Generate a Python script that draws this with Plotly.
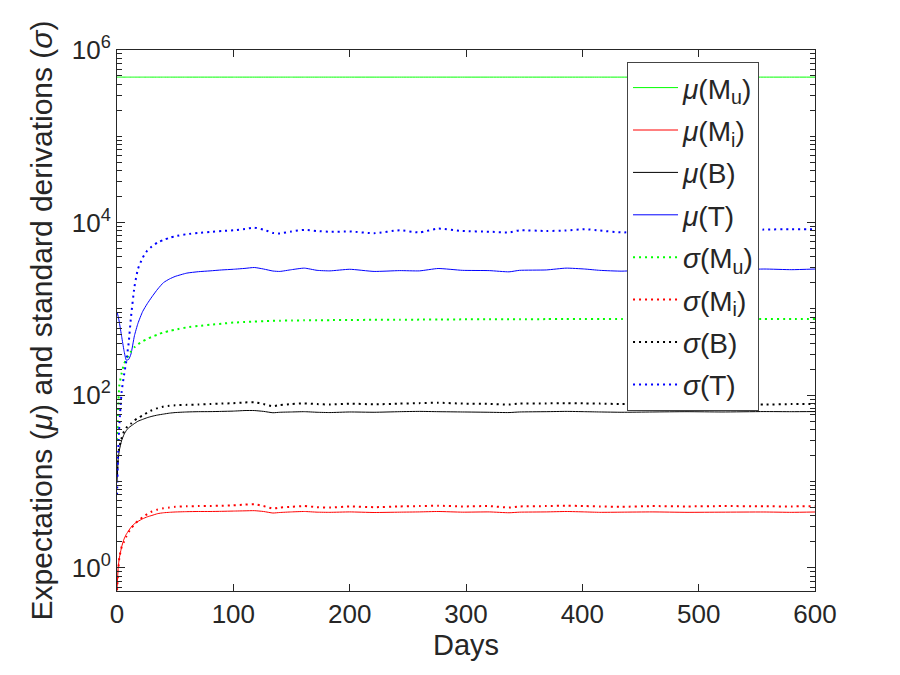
import plotly.graph_objects as go

# days sampled from the figure
days = [0, 1, 2, 4, 6, 8, 10, 12, 15, 18, 22, 26, 30, 35, 40, 45, 50, 60, 70, 80,
        90, 100, 110, 118, 126, 134, 140, 150, 161, 172, 183, 200, 221, 243, 260, 276,
        297, 320, 337, 346, 369, 386, 402, 415, 434, 460, 490, 520, 556, 580, 600]

mu_Mu = [4.85e5] * len(days)

mu_Mi = [0.55, 1.0, 1.3, 1.75, 2.15, 2.45, 2.7, 2.95, 3.25, 3.45, 3.7, 3.9, 4.05, 4.25, 4.35, 4.4, 4.44, 4.48, 4.5, 4.5,
         4.52, 4.55, 4.58, 4.6, 4.5, 4.32, 4.38, 4.45, 4.5, 4.42, 4.4, 4.45, 4.38, 4.42, 4.45, 4.5,
         4.42, 4.45, 4.35, 4.42, 4.45, 4.5, 4.45, 4.4, 4.42, 4.45, 4.4, 4.42, 4.44, 4.4, 4.44]

mu_B = [10, 18, 23, 30, 35, 39, 42, 44, 47, 50, 52.5, 55, 57, 59, 60.5, 62, 63, 64, 64.5, 64.6,
        65, 65.5, 66.5, 66.5, 65, 62.7, 63.5, 64, 64.5, 63.5, 63, 64, 63.5, 64.5, 65, 64.5,
        64, 63.5, 63, 64, 64.5, 65, 64.5, 64, 63.5, 64, 64.5, 64, 64.7, 64.5, 64.7]

mu_T = [920, 820, 700, 480, 330, 255, 260, 300, 490, 680, 930, 1150, 1380, 1700, 2020, 2220, 2380, 2600, 2700, 2760,
        2830, 2880, 2950, 3020, 2900, 2750, 2720, 2850, 2970, 2800, 2760, 2880, 2720, 2780, 2760, 2940,
        2800, 2780, 2690, 2800, 2830, 2970, 2900, 2800, 2740, 2850, 2900, 2800, 2900, 2850, 2900]

sd_Mu = [30, 70, 130, 180, 230, 262, 290, 320, 360, 390, 420, 450, 475, 505, 535, 555, 575, 611, 635, 656,
         675, 695, 705, 715, 722, 728, 731, 735, 738, 740, 742, 745, 748, 750, 752, 755,
         757, 758, 760, 760, 762, 763, 763, 764, 764, 765, 765, 765, 766, 766, 766]

sd_Mi = [0.55, 0.9, 1.3, 1.75, 2.0, 2.3, 2.6, 2.85, 3.2, 3.5, 3.85, 4.2, 4.5, 4.75, 4.9, 5.0, 5.1, 5.17, 5.2, 5.22,
         5.25, 5.3, 5.4, 5.45, 5.2, 4.86, 5.0, 5.1, 5.2, 5.05, 5.0, 5.15, 5.05, 5.15, 5.2, 5.25,
         5.15, 5.2, 5.0, 5.15, 5.2, 5.25, 5.2, 5.15, 5.1, 5.2, 5.15, 5.2, 5.17, 5.15, 5.2]

sd_B = [12, 20, 25, 32, 38, 42, 45, 47, 51, 55, 58, 63, 67, 71, 74, 75.5, 76.5, 77.4, 78, 79,
        80, 81, 82.5, 83, 79, 74.6, 77, 79, 80.5, 79, 78, 80, 78.5, 80, 81, 82,
        80, 79.5, 78, 80, 80.5, 81, 80.5, 80, 79, 80, 80.5, 79.5, 78, 79, 79]

sd_T = [7, 22, 45, 110, 170, 250, 400, 800, 1800, 2900, 3900, 4750, 5300, 5900, 6300, 6650, 6950, 7350, 7600, 7800,
        8000, 8150, 8450, 8750, 8300, 7600, 7500, 7900, 8240, 8000, 7820, 7900, 7540, 8150, 7700, 8530,
        8000, 7850, 7700, 8150, 8000, 8100, 8400, 8100, 7700, 8000, 8200, 7900, 8300, 8400, 8400]

names = ['<i>μ</i>(M<sub>u</sub>)', '<i>μ</i>(M<sub>i</sub>)', '<i>μ</i>(B)', '<i>μ</i>(T)',
         '<i>σ</i>(M<sub>u</sub>)', '<i>σ</i>(M<sub>i</sub>)', '<i>σ</i>(B)', '<i>σ</i>(T)']
series = [mu_Mu, mu_Mi, mu_B, mu_T, sd_Mu, sd_Mi, sd_B, sd_T]
colors = ['#00ff00', '#ff0000', '#000000', '#0000ff'] * 2

fig = go.Figure()
for i, (name, ys) in enumerate(zip(names, series)):
    dotted = i >= 4
    fig.add_trace(go.Scatter(
        x=days, y=ys, name=name, mode='lines', legendgroup='g%d' % i,
        line=dict(color=colors[i], width=2 if dotted else 1,
                  dash='2px,4px' if dotted else 'solid',
                  shape='spline', smoothing=0.5),
    ))

ink = '#262626'
major_y = [1, 1e2, 1e4, 1e6]
minor_y = [m * 10 ** k for k in range(-1, 6) for m in range(1, 10)
           if m * 10 ** k not in major_y and 0.54 <= m * 10 ** k <= 1e6]

# the page adds an 8px body margin, so margins are shifted to compensate
fig.update_layout(
    width=900, height=675,
    margin=dict(l=109, r=93, t=42, b=92, autoexpand=False),
    paper_bgcolor='white', plot_bgcolor='white',
    font=dict(family='Liberation Sans, Arial', color=ink, size=26),
    showlegend=True,
    legend=dict(x=0.7307, y=0.978, xanchor='left', yanchor='top',
                bgcolor='white', bordercolor='#444', borderwidth=1,
                font=dict(size=28, color=ink), itemwidth=45, tracegroupgap=3),
)
fig.update_xaxes(
    range=[0, 600], tickvals=[0, 100, 200, 300, 400, 500, 600],
    ticks='inside', ticklen=7, tickcolor=ink,
    showline=True, linecolor=ink, linewidth=1, mirror='ticks',
    showgrid=False, zeroline=False,
    title=dict(text='Days', font=dict(size=29), standoff=4),
)
fig.update_yaxes(
    type='log', range=[-0.268, 6],
    tickvals=major_y, ticktext=['10<sup>0</sup>', '10<sup>2</sup>', '10<sup>4</sup>', '10<sup>6</sup>'],
    ticks='inside', ticklen=8, tickcolor=ink,
    minor=dict(tickmode='array', tickvals=minor_y, ticks='inside', ticklen=5, tickcolor=ink),
    showline=True, linecolor=ink, linewidth=1, mirror='ticks',
    showgrid=False, zeroline=False,
    title=dict(text='Expectations (<i>μ</i>) and standard derivations (<i>σ</i>)',
               font=dict(size=30), standoff=10),
)

fig.write_html("out.html")
